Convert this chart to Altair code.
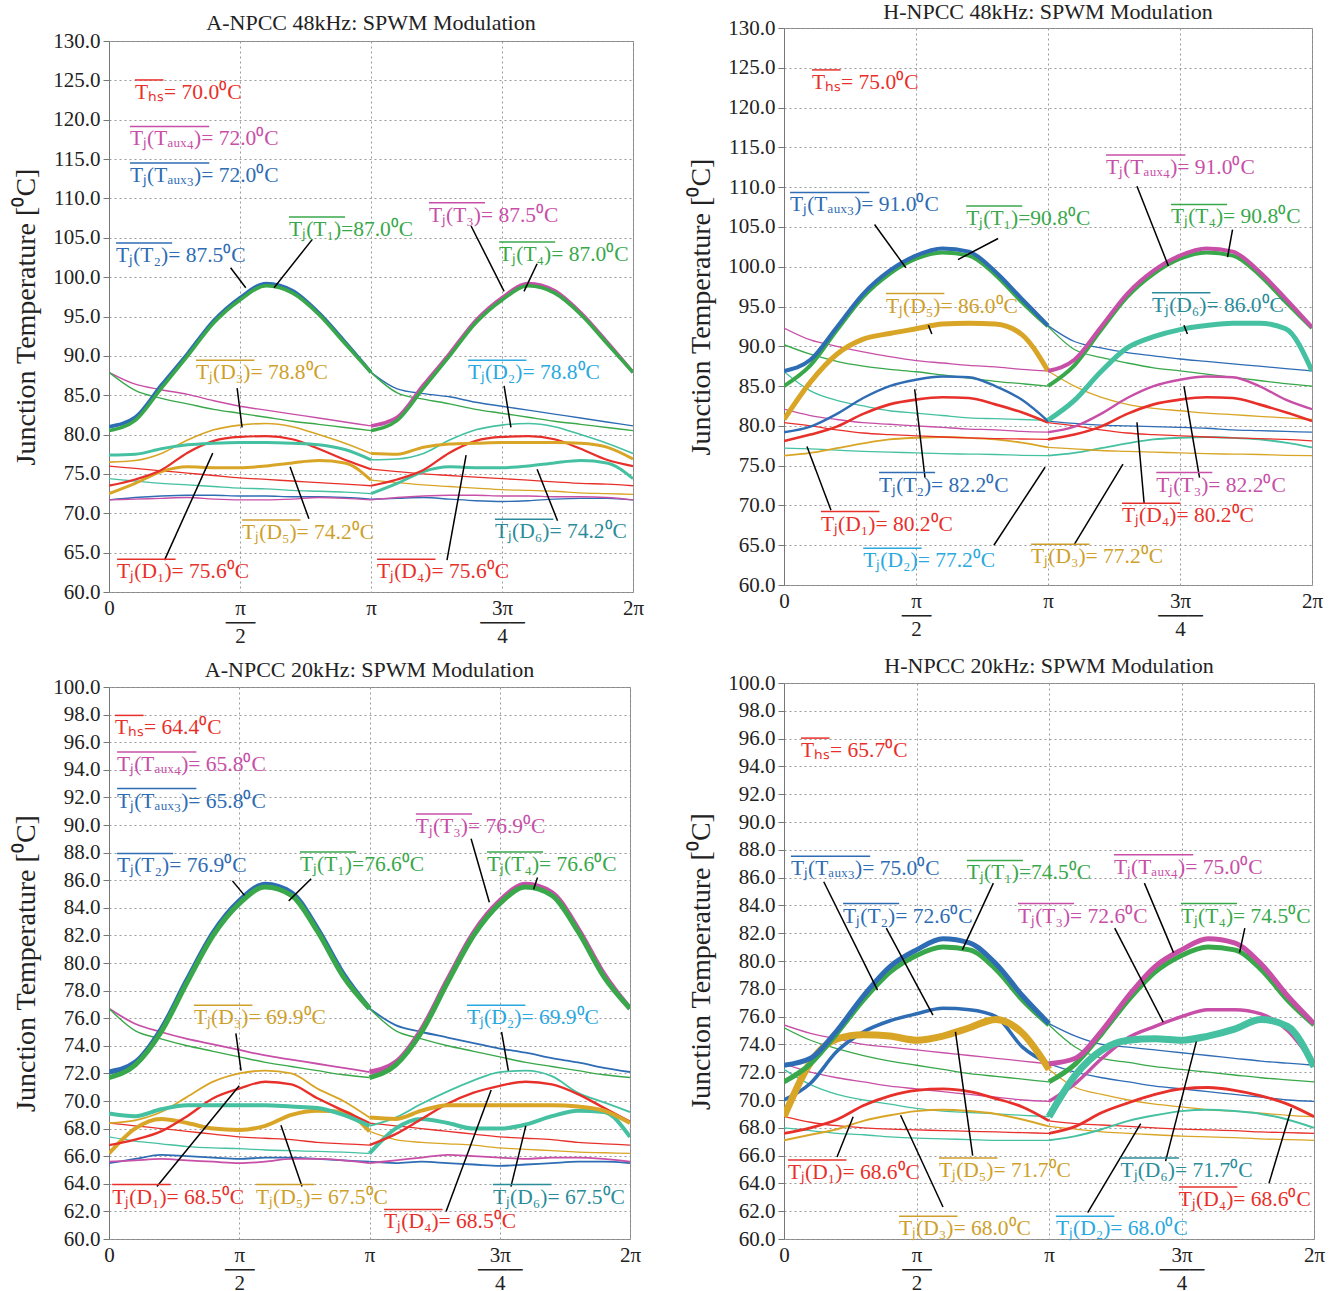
import altair as alt
import pandas as pd

FONT = "Liberation Serif"

# sample grid, in units of pi (0 .. 2pi)
THETA = [0.0, 0.1, 0.2, 0.3, 0.4, 0.5, 0.6, 0.7, 0.8, 0.9, 1.0,
         1.1, 1.2, 1.3, 1.4, 1.5, 1.6, 1.7, 1.8, 1.9, 2.0]

RED = "#e8302b"
MAG = "#c84fa7"
BLUE = "#2e6cb4"
GREEN = "#39a84a"
GOLD = "#d9a526"
TEAL = "#45c1a1"
SKY = "#2aa8e0"
TEAL_L = "#2a8c9a"
GOLD_L = "#cf9f2c"

# ---------------- A-NPCC 48 kHz ----------------
TL_T2 = [81.0, 82.2, 86.3, 90.3, 94.5, 97.4, 99.2, 98.3, 95.5, 91.8, 87.9, 85.8, 85.2, 84.8, 84.1, 83.6, 83.1, 82.6, 82.1, 81.6, 81.1]
TL_T1 = [80.5, 81.8, 85.9, 90.0, 94.2, 97.1, 98.9, 98.0, 95.3, 91.6, 87.9, 85.3, 84.5, 83.9, 83.2, 82.7, 82.2, 81.7, 81.3, 80.9, 80.5]
TL_T3 = [87.9, 86.4, 85.7, 85.1, 84.3, 83.6, 83.1, 82.6, 82.1, 81.6, 81.1, 82.2, 86.3, 90.3, 94.5, 97.4, 99.2, 98.3, 95.5, 91.8, 87.9]
TL_T4 = [87.9, 85.6, 84.6, 83.9, 83.2, 82.7, 82.2, 81.7, 81.3, 80.9, 80.5, 81.8, 85.9, 90.0, 94.2, 97.1, 98.9, 98.0, 95.3, 91.6, 87.9]
TL_D3 = [76.5, 76.7, 77.6, 79.3, 80.6, 81.2, 81.4, 81.0, 80.0, 78.9, 77.6, 77.5, 78.4, 78.8, 78.9, 79.0, 79.0, 79.0, 78.9, 78.4, 76.9]
TL_D2 = [77.4, 77.5, 78.2, 78.7, 78.9, 79.0, 79.0, 78.9, 78.7, 78.1, 76.8, 76.9, 77.6, 79.3, 80.6, 81.2, 81.4, 81.0, 80.0, 78.9, 77.6]
TL_D1 = [73.5, 74.3, 75.5, 77.7, 79.2, 79.7, 79.8, 79.4, 78.2, 76.8, 75.6, 75.3, 75.0, 74.8, 74.6, 74.4, 74.2, 74.0, 73.8, 73.7, 73.5]
TL_D4 = [76.0, 75.7, 75.4, 75.1, 74.8, 74.5, 74.3, 74.1, 73.9, 73.7, 73.5, 74.3, 75.5, 77.7, 79.2, 79.7, 79.8, 79.4, 78.2, 76.8, 76.0]
TL_D5 = [72.5, 73.8, 75.3, 75.9, 75.8, 75.8, 76.0, 76.4, 76.7, 76.4, 74.2, 73.9, 73.6, 73.4, 73.2, 73.0, 72.9, 72.8, 72.6, 72.5, 72.4]
TL_D6 = [74.4, 74.1, 73.8, 73.6, 73.4, 73.2, 73.1, 72.9, 72.8, 72.7, 72.5, 73.8, 75.3, 75.9, 75.8, 75.8, 76.0, 76.4, 76.7, 76.4, 74.4]
TL_AUX3 = [71.7, 72.0, 72.2, 72.3, 72.3, 72.2, 72.2, 72.1, 72.1, 72.0, 71.8, 71.9, 72.0, 71.8, 71.6, 71.5, 71.6, 71.8, 71.9, 71.9, 71.7]
TL_AUX4 = [71.7, 71.8, 71.9, 72.0, 71.8, 71.7, 71.7, 71.8, 72.0, 71.9, 71.7, 72.0, 72.2, 72.3, 72.3, 72.2, 72.2, 72.1, 72.1, 72.0, 71.7]

# ---------------- H-NPCC 48 kHz ----------------
TR_AUX3 = [86.9, 88.3, 92.4, 96.6, 99.5, 101.4, 102.3, 101.9, 99.4, 96.0, 92.6, 90.6, 89.8, 89.2, 88.8, 88.4, 88.1, 87.8, 87.5, 87.2, 86.9]
TR_T1 = [85.0, 87.6, 92.0, 96.2, 99.1, 101.0, 101.8, 101.4, 99.0, 95.6, 92.5, 89.6, 88.6, 87.9, 87.3, 86.9, 86.5, 86.1, 85.7, 85.3, 85.0]
TR_AUX4 = [92.3, 90.8, 90.0, 89.3, 88.7, 88.2, 87.9, 87.6, 87.4, 87.1, 86.9, 88.3, 92.4, 96.6, 99.5, 101.4, 102.3, 101.9, 99.4, 96.0, 92.4]
TR_T4 = [90.2, 89.0, 88.1, 87.5, 87.1, 86.8, 86.4, 86.0, 85.6, 85.3, 85.0, 87.6, 92.0, 96.2, 99.1, 101.0, 101.8, 101.4, 99.0, 95.6, 92.3]
TR_D5 = [80.8, 85.5, 89.0, 90.9, 91.6, 92.2, 92.8, 92.9, 92.8, 91.5, 86.9, 85.0, 83.6, 82.7, 82.2, 81.9, 81.6, 81.4, 81.2, 81.0, 80.8]
TR_D6 = [86.8, 84.4, 83.2, 82.5, 81.9, 81.6, 81.3, 81.0, 80.9, 80.8, 80.7, 83.2, 86.8, 89.8, 91.2, 92.1, 92.6, 92.9, 92.9, 92.2, 86.9]
TR_T2 = [79.2, 79.9, 81.5, 83.5, 85.0, 85.8, 86.2, 86.1, 85.0, 83.3, 80.6, 80.3, 80.1, 80.0, 79.9, 79.8, 79.7, 79.5, 79.4, 79.3, 79.2]
TR_T3 = [82.1, 81.3, 80.8, 80.4, 80.2, 80.0, 79.8, 79.6, 79.5, 79.3, 79.2, 79.9, 81.5, 83.5, 85.0, 85.8, 86.2, 86.1, 85.0, 83.3, 82.1]
TR_D1 = [78.1, 78.9, 79.9, 81.5, 82.7, 83.3, 83.6, 83.5, 82.7, 81.7, 80.4, 80.0, 79.5, 79.1, 78.9, 78.75, 78.6, 78.5, 78.4, 78.3, 78.1]
TR_D4 = [80.4, 80.0, 79.5, 79.1, 78.9, 78.75, 78.6, 78.5, 78.4, 78.35, 78.3, 78.9, 79.9, 81.5, 82.7, 83.3, 83.6, 83.5, 82.7, 81.7, 80.6]
TR_D3 = [76.25, 76.6, 77.2, 77.8, 78.3, 78.5, 78.6, 78.5, 78.3, 77.9, 77.3, 77.1, 76.9, 76.8, 76.7, 76.6, 76.5, 76.45, 76.4, 76.3, 76.25]
TR_D2 = [77.2, 77.1, 76.95, 76.8, 76.7, 76.6, 76.5, 76.45, 76.4, 76.3, 76.25, 76.6, 77.2, 77.8, 78.3, 78.5, 78.6, 78.5, 78.3, 77.9, 77.3]

# ---------------- A-NPCC 20 kHz ----------------
BL_T2 = [72.1, 72.8, 75.2, 78.8, 82.2, 84.5, 85.7, 85.1, 82.5, 79.2, 76.7, 75.5, 75.0, 74.6, 74.2, 73.8, 73.5, 73.1, 72.8, 72.4, 72.1]
BL_T1 = [71.7, 72.6, 75.0, 78.6, 82.0, 84.3, 85.5, 84.9, 82.3, 79.0, 76.7, 75.1, 74.5, 74.0, 73.6, 73.2, 72.8, 72.5, 72.2, 71.9, 71.7]
BL_T3 = [76.7, 75.6, 75.0, 74.5, 74.1, 73.7, 73.3, 73.0, 72.7, 72.4, 72.1, 72.8, 75.2, 78.8, 82.2, 84.5, 85.7, 85.1, 82.5, 79.2, 76.7]
BL_T4 = [76.7, 75.1, 74.5, 74.0, 73.6, 73.2, 72.8, 72.5, 72.2, 71.9, 71.7, 72.6, 75.0, 78.6, 82.0, 84.3, 85.5, 84.9, 82.3, 79.0, 76.7]
BL_D3 = [68.4, 68.6, 69.2, 70.3, 71.4, 72.0, 72.2, 72.0, 70.9, 70.0, 68.8, 68.7, 69.3, 69.7, 69.7, 69.7, 69.7, 69.7, 69.6, 69.3, 68.4]
BL_D2 = [69.1, 68.9, 69.4, 69.7, 69.7, 69.7, 69.7, 69.6, 69.5, 69.0, 68.2, 68.8, 69.8, 70.7, 71.5, 72.1, 72.2, 71.8, 70.6, 69.9, 69.2]
BL_D1 = [66.8, 67.2, 67.8, 68.9, 70.2, 70.9, 71.4, 71.2, 70.2, 69.3, 68.4, 68.2, 68.0, 67.8, 67.6, 67.4, 67.3, 67.2, 67.0, 66.9, 66.8]
BL_D4 = [68.4, 68.2, 68.0, 67.8, 67.6, 67.4, 67.3, 67.2, 67.0, 66.9, 66.8, 67.6, 68.7, 69.8, 70.6, 71.1, 71.4, 71.2, 70.5, 69.5, 68.5]
BL_D5 = [66.2, 68.0, 68.7, 68.4, 68.0, 67.9, 68.2, 69.0, 69.3, 69.2, 67.8, 67.2, 67.0, 66.9, 66.8, 66.6, 66.5, 66.4, 66.3, 66.25, 66.2]
BL_D6 = [67.4, 67.1, 66.9, 66.7, 66.6, 66.55, 66.45, 66.4, 66.35, 66.3, 66.2, 68.0, 68.7, 68.4, 68.0, 68.0, 68.3, 68.9, 69.3, 69.2, 67.4]
BL_AUX3 = [65.5, 65.8, 66.1, 66.0, 65.9, 65.8, 65.9, 65.9, 65.8, 65.7, 65.6, 65.5, 65.6, 65.5, 65.4, 65.3, 65.4, 65.5, 65.6, 65.6, 65.5]
BL_AUX4 = [65.6, 65.7, 65.8, 65.7, 65.6, 65.5, 65.6, 65.8, 65.8, 65.7, 65.5, 65.7, 65.9, 66.1, 66.0, 65.9, 65.8, 65.9, 65.9, 65.8, 65.6]

# ---------------- H-NPCC 20 kHz ----------------
BR_AUX3 = [72.5, 73.0, 75.0, 77.5, 79.6, 80.8, 81.6, 81.3, 79.8, 77.5, 75.5, 74.6, 74.0, 73.8, 73.6, 73.4, 73.2, 73.0, 72.8, 72.65, 72.5]
BR_T1 = [71.3, 72.6, 74.8, 77.2, 79.2, 80.4, 81.0, 80.8, 79.4, 77.2, 75.4, 73.8, 73.0, 72.7, 72.4, 72.2, 72.0, 71.8, 71.6, 71.45, 71.3]
BR_AUX4 = [75.4, 74.8, 74.4, 74.0, 73.8, 73.6, 73.4, 73.2, 73.0, 72.8, 72.6, 73.0, 75.0, 77.5, 79.6, 80.8, 81.6, 81.3, 79.8, 77.5, 75.5]
BR_T4 = [75.2, 74.3, 73.7, 73.2, 72.8, 72.5, 72.2, 71.9, 71.7, 71.5, 71.3, 72.6, 74.8, 77.2, 79.2, 80.4, 81.0, 80.8, 79.4, 77.2, 75.4]
BR_T2 = [70.0, 71.2, 73.5, 74.9, 75.7, 76.2, 76.6, 76.5, 76.0, 73.8, 72.6, 72.0, 71.6, 71.3, 71.0, 70.8, 70.6, 70.4, 70.2, 70.0, 69.9]
BR_T3 = [72.6, 72.0, 71.6, 71.3, 71.0, 70.8, 70.6, 70.4, 70.2, 70.0, 69.9, 71.2, 73.0, 74.5, 75.3, 76.0, 76.5, 76.5, 76.2, 75.0, 72.6]
BR_D5 = [68.8, 72.7, 74.4, 74.7, 74.6, 74.3, 74.6, 75.2, 75.8, 74.8, 72.2, 70.9, 70.4, 70.0, 69.7, 69.5, 69.3, 69.2, 69.05, 68.9, 68.8]
BR_D6 = [72.2, 71.1, 70.4, 70.0, 69.7, 69.4, 69.2, 69.1, 69.0, 68.9, 68.8, 71.8, 73.6, 74.3, 74.4, 74.3, 74.6, 75.1, 75.8, 75.3, 72.4]
BR_D1 = [67.6, 68.0, 68.6, 69.6, 70.3, 70.7, 70.8, 70.6, 70.1, 69.5, 68.5, 68.3, 68.2, 68.1, 68.0, 67.9, 67.85, 67.8, 67.7, 67.65, 67.6]
BR_D4 = [68.8, 68.4, 68.15, 68.0, 67.9, 67.85, 67.8, 67.75, 67.7, 67.65, 67.6, 68.1, 69.1, 69.8, 70.4, 70.8, 70.9, 70.7, 70.3, 69.7, 68.8]
BR_D3 = [67.1, 67.5, 67.9, 68.5, 68.9, 69.2, 69.3, 69.2, 69.0, 68.6, 68.1, 67.9, 67.7, 67.6, 67.5, 67.4, 67.35, 67.3, 67.2, 67.15, 67.1]
BR_D2 = [68.0, 67.8, 67.6, 67.5, 67.35, 67.25, 67.2, 67.15, 67.1, 67.1, 67.1, 67.4, 67.9, 68.5, 68.9, 69.2, 69.3, 69.2, 69.0, 68.6, 68.0]

# tick values
TOP_YTICKS = [60, 65, 70, 75, 80, 85, 90, 95, 100, 105, 110, 115, 120, 125, 130]
BOT_YTICKS = [60, 62, 64, 66, 68, 70, 72, 74, 76, 78, 80, 82, 84, 86, 88, 90, 92, 94, 96, 98, 100]
XTICKS = [0, 0.5, 1, 1.5, 2]

# curves: (values, colour, stroke width on [0,pi], stroke width on [pi,2pi])
TL_CURVES = [
    (TL_AUX3, BLUE, 1.4, 1.4), (TL_AUX4, MAG, 1.4, 1.4),
    (TL_D6, TEAL, 1.3, 3.0), (TL_D5, GOLD, 3.0, 1.3),
    (TL_D4, RED, 1.3, 2.2), (TL_D1, RED, 2.2, 1.3),
    (TL_D2, TEAL, 3.0, 1.6), (TL_D3, GOLD, 1.6, 3.0),
    (TL_T3, MAG, 1.4, 3.5), (TL_T4, GREEN, 1.4, 3.5),
    (TL_T2, BLUE, 3.5, 1.4), (TL_T1, GREEN, 3.5, 1.4),
]
TR_CURVES = [
    (TR_D2, TEAL, 1.3, 1.8), (TR_D3, GOLD, 1.8, 1.3),
    (TR_D4, RED, 1.3, 2.6), (TR_D1, RED, 2.6, 1.3),
    (TR_T3, MAG, 1.3, 2.4), (TR_T2, BLUE, 2.4, 1.3),
    (TR_D6, TEAL, 1.3, 5.0), (TR_D5, GOLD, 5.0, 1.3),
    (TR_T4, GREEN, 1.3, 4.0), (TR_AUX4, MAG, 1.3, 4.0),
    (TR_T1, GREEN, 4.0, 1.3), (TR_AUX3, BLUE, 4.0, 1.3),
]
BL_CURVES = [
    (BL_AUX3, BLUE, 1.8, 1.8), (BL_AUX4, MAG, 1.8, 1.8),
    (BL_D6, TEAL, 1.3, 4.0), (BL_D5, GOLD, 4.0, 1.3),
    (BL_D4, RED, 1.3, 2.4), (BL_D1, RED, 2.4, 1.3),
    (BL_D2, TEAL, 4.0, 1.8), (BL_D3, GOLD, 1.8, 4.0),
    (BL_T3, MAG, 1.8, 5.0), (BL_T4, GREEN, 1.4, 5.0),
    (BL_T2, BLUE, 5.0, 1.8), (BL_T1, GREEN, 5.0, 1.4),
]
BR_CURVES = [
    (BR_D2, TEAL, 1.3, 2.0), (BR_D3, GOLD, 2.0, 1.3),
    (BR_D4, RED, 1.3, 2.8), (BR_D1, RED, 2.8, 1.3),
    (BR_T3, MAG, 1.3, 3.5), (BR_T2, BLUE, 3.5, 1.3),
    (BR_D6, TEAL, 1.3, 7.0), (BR_D5, GOLD, 7.0, 1.3),
    (BR_T4, GREEN, 1.3, 5.0), (BR_AUX4, MAG, 1.3, 5.0),
    (BR_T1, GREEN, 5.0, 1.3), (BR_AUX3, BLUE, 5.0, 1.3),
]

# annotations: (text, colour, theta/pi, value)
TL_LABELS = [
    ("Tₕₛ= 70.0⁰C", RED, 0.099, 123.4),
    ("Tⱼ(Tₐᵤₓ₄)= 72.0⁰C", MAG, 0.08, 117.5),
    ("Tⱼ(Tₐᵤₓ₃)= 72.0⁰C", BLUE, 0.08, 112.85),
    ("Tⱼ(T₂)= 87.5⁰C", BLUE, 0.027, 102.7),
    ("Tⱼ(T₁)=87.0⁰C", GREEN, 0.687, 106.0),
    ("Tⱼ(T₃)= 87.5⁰C", MAG, 1.221, 107.8),
    ("Tⱼ(T₄)= 87.0⁰C", GREEN, 1.489, 102.8),
    ("Tⱼ(D₃)= 78.8⁰C", GOLD_L, 0.332, 87.8),
    ("Tⱼ(D₂)= 78.8⁰C", SKY, 1.37, 87.8),
    ("Tⱼ(D₅)= 74.2⁰C", GOLD_L, 0.508, 67.5),
    ("Tⱼ(D₆)= 74.2⁰C", TEAL_L, 1.473, 67.6),
    ("Tⱼ(D₁)= 75.6⁰C", RED, 0.031, 62.5),
    ("Tⱼ(D₄)= 75.6⁰C", RED, 1.023, 62.5),
]
TR_LABELS = [
    ("Tₕₛ= 75.0⁰C", RED, 0.106, 123.1),
    ("Tⱼ(Tₐᵤₓ₄)= 91.0⁰C", MAG, 1.22, 112.4),
    ("Tⱼ(Tₐᵤₓ₃)= 91.0⁰C", BLUE, 0.023, 107.7),
    ("Tⱼ(T₁)=90.8⁰C", GREEN, 0.69, 106.0),
    ("Tⱼ(T₄)= 90.8⁰C", GREEN, 1.466, 106.2),
    ("Tⱼ(D₅)= 86.0⁰C", GOLD_L, 0.386, 95.0),
    ("Tⱼ(D₆)= 86.0⁰C", TEAL_L, 1.394, 95.1),
    ("Tⱼ(T₂)= 82.2⁰C", BLUE, 0.36, 72.5),
    ("Tⱼ(T₃)= 82.2⁰C", MAG, 1.41, 72.5),
    ("Tⱼ(D₁)= 80.2⁰C", RED, 0.14, 67.6),
    ("Tⱼ(D₄)= 80.2⁰C", RED, 1.28, 68.65),
    ("Tⱼ(D₂)= 77.2⁰C", SKY, 0.30, 63.0),
    ("Tⱼ(D₃)= 77.2⁰C", GOLD_L, 0.936, 63.5),
]
BL_LABELS = [
    ("Tₕₛ= 64.4⁰C", RED, 0.023, 97.0),
    ("Tⱼ(Tₐᵤₓ₄)= 65.8⁰C", MAG, 0.031, 94.35),
    ("Tⱼ(Tₐᵤₓ₃)= 65.8⁰C", BLUE, 0.031, 91.7),
    ("Tⱼ(T₃)= 76.9⁰C", MAG, 1.178, 89.85),
    ("Tⱼ(T₂)= 76.9⁰C", BLUE, 0.031, 87.0),
    ("Tⱼ(T₁)=76.6⁰C", GREEN, 0.733, 87.1),
    ("Tⱼ(T₄)= 76.6⁰C", GREEN, 1.451, 87.1),
    ("Tⱼ(D₃)= 69.9⁰C", GOLD_L, 0.326, 76.0),
    ("Tⱼ(D₂)= 69.9⁰C", SKY, 1.374, 76.0),
    ("Tⱼ(D₁)= 68.5⁰C", RED, 0.012, 63.0),
    ("Tⱼ(D₅)= 67.5⁰C", GOLD_L, 0.564, 63.0),
    ("Tⱼ(D₆)= 67.5⁰C", TEAL_L, 1.474, 63.0),
    ("Tⱼ(D₄)= 68.5⁰C", RED, 1.056, 61.2),
]
BR_LABELS = [
    ("Tₕₛ= 65.7⁰C", RED, 0.064, 95.1),
    ("Tⱼ(Tₐᵤₓ₃)= 75.0⁰C", BLUE, 0.026, 86.6),
    ("Tⱼ(T₁)=74.5⁰C", GREEN, 0.69, 86.3),
    ("Tⱼ(Tₐᵤₓ₄)= 75.0⁰C", MAG, 1.245, 86.7),
    ("Tⱼ(T₂)= 72.6⁰C", BLUE, 0.223, 83.2),
    ("Tⱼ(T₃)= 72.6⁰C", MAG, 0.883, 83.2),
    ("Tⱼ(T₄)= 74.5⁰C", GREEN, 1.498, 83.2),
    ("Tⱼ(D₁)= 68.6⁰C", RED, 0.015, 64.75),
    ("Tⱼ(D₅)= 71.7⁰C", GOLD_L, 0.585, 64.9),
    ("Tⱼ(D₆)= 71.7⁰C", TEAL_L, 1.27, 64.9),
    ("Tⱼ(D₄)= 68.6⁰C", RED, 1.49, 62.8),
    ("Tⱼ(D₃)= 68.0⁰C", GOLD_L, 0.434, 60.7),
    ("Tⱼ(D₂)= 68.0⁰C", SKY, 1.026, 60.7),
]

# leader lines: (theta1, value1, theta2, value2)
TL_LEADERS = [
    (0.464, 101.2, 0.522, 98.65), (0.776, 104.8, 0.63, 98.65),
    (1.382, 106.5, 1.508, 98.2), (1.634, 101.7, 1.584, 98.2),
    (0.489, 85.9, 0.508, 80.9), (1.508, 86.2, 1.534, 80.9),
    (0.691, 75.9, 0.763, 69.3), (1.634, 75.6, 1.712, 69.05),
    (0.396, 77.65, 0.212, 64.05), (1.363, 77.4, 1.29, 64.05),
]
TR_LEADERS = [
    (0.343, 105.3, 0.462, 99.85), (0.811, 103.55, 0.659, 100.9),
    (1.337, 110.1, 1.456, 100.1), (1.699, 104.65, 1.68, 101.2),
    (0.547, 92.65, 0.56, 91.55), (1.515, 92.65, 1.528, 91.55),
    (0.495, 84.6, 0.534, 73.5), (1.515, 85.0, 1.574, 73.5),
    (0.087, 77.4, 0.178, 69.4), (1.337, 80.45, 1.364, 70.3),
    (0.989, 74.8, 0.795, 65.0), (1.284, 75.2, 1.098, 65.0),
]
BL_LEADERS = [
    (0.474, 85.95, 0.52, 84.9), (0.776, 86.1, 0.69, 84.5),
    (1.39, 89.0, 1.46, 84.4), (1.645, 86.2, 1.63, 85.35),
    (0.487, 74.9, 0.507, 72.2), (1.507, 75.0, 1.533, 72.2),
    (0.5, 71.1, 0.184, 63.8), (0.66, 68.25, 0.741, 63.8),
    (1.467, 70.8, 1.294, 62.0), (1.6, 68.2, 1.543, 63.8),
]
BR_LEADERS = [
    (0.15, 85.7, 0.353, 77.9), (0.79, 85.6, 0.673, 80.8),
    (0.386, 82.36, 0.562, 76.1), (1.248, 82.36, 1.431, 75.6),
    (1.36, 85.6, 1.47, 80.6), (1.739, 82.36, 1.719, 80.6),
    (0.261, 68.8, 0.20, 65.9), (0.44, 68.9, 0.60, 62.3),
    (0.647, 74.9, 0.712, 66.0), (1.346, 68.3, 1.146, 61.9),
    (1.556, 74.2, 1.44, 65.6), (1.915, 69.4, 1.83, 64.0),
]

LABEL_SIZE = 21.5

# approximate glyph widths (em) for the overline lengths
GW = {"T": 0.611, "(": 0.333, ")": 0.333, "D": 0.722}
SUB_W = 0.36


def name_width_px(txt, size):
    head = txt.split("=")[0]
    return sum(GW.get(ch, SUB_W) for ch in head) * size


XLABELS = ("datum.value == 0 ? '0' : datum.value == 0.5 ? ['π', '──', '2'] : "
           "datum.value == 1 ? 'π' : datum.value == 1.5 ? ['3π', '───', '4'] : '2π'")


def title_params(text, offset):
    return alt.TitleParams(text, font=FONT, fontSize=22, fontWeight="normal",
                           color="#222", offset=offset)


def panel(title, curves, labels, leaders, ydom, yticks, w, h, toff, tpad):
    xs = alt.Scale(domain=[0, 2], nice=False, zero=False)
    ys = alt.Scale(domain=ydom, nice=False, zero=False)
    xax = alt.Axis(values=XTICKS, labelExpr=XLABELS, title=None, grid=True,
                   gridDash=[2, 3], gridColor="#9a9a9a", ticks=False, domain=False,
                   labelFont=FONT, labelFontSize=21, labelColor="#222",
                   labelLineHeight=14, labelBaseline="top", labelPadding=5,
                   labelFlush=False, labelOverlap=False)
    yax = alt.Axis(values=yticks, format=".1f", title="Junction Temperature [⁰C]",
                   grid=True, gridDash=[2, 3], gridColor="#9a9a9a", tickSize=6,
                   tickColor="#777", domainColor="#777", labelFont=FONT,
                   labelFontSize=21, labelColor="#222", labelPadding=3,
                   titleFont=FONT, titleFontSize=28, titleFontWeight="normal",
                   titleColor="#222", titlePadding=tpad, labelOverlap=False)

    rows = []
    k = 0
    for vals, col, w1, w2 in curves:
        for lo, hi, sw in ((0, 11, w1), (10, 21, w2)):
            for i in range(lo, hi):
                rows.append({"t": THETA[i], "v": vals[i], "s": f"c{k:02d}",
                             "c": col, "w": sw})
            k += 1
    cdf = pd.DataFrame(rows)

    def X(f):
        return alt.X(f, type="quantitative", scale=xs, axis=xax)

    def Y(f):
        return alt.Y(f, type="quantitative", scale=ys, axis=yax)

    thin = alt.Chart(cdf[cdf.w < 2.0]).mark_line(interpolate="monotone", clip=True).encode(
        x=X("t"), y=Y("v"), detail="s:N", color=alt.Color("c:N", scale=None),
        strokeWidth=alt.StrokeWidth("w:Q", scale=None), order="t:Q")
    thick = alt.Chart(cdf[cdf.w >= 2.0]).mark_line(interpolate="monotone", clip=True).encode(
        x=X("t"), y=Y("v"), detail="s:N", color=alt.Color("c:N", scale=None),
        strokeWidth=alt.StrokeWidth("w:Q", scale=None), order="t:Q")

    ldf = pd.DataFrame([{"txt": t, "c": c, "t": x, "v": v,
                         "t2": x + name_width_px(t, LABEL_SIZE) / (w / 2.0)}
                        for t, c, x, v in labels])
    text = alt.Chart(ldf).mark_text(align="left", baseline="middle", font=FONT,
                                    fontSize=LABEL_SIZE).encode(
        x=X("t"), y=Y("v"), text="txt:N", color=alt.Color("c:N", scale=None))
    over = alt.Chart(ldf).mark_rule(yOffset=-13, strokeWidth=1.5).encode(
        x=X("t"), x2="t2:Q", y=Y("v"), color=alt.Color("c:N", scale=None))

    qdf = pd.DataFrame([{"t1": a, "v1": b, "t2": c, "v2": d} for a, b, c, d in leaders])
    lead = alt.Chart(qdf).mark_rule(color="black", strokeWidth=1.5).encode(
        x=X("t1"), y=Y("v1"), x2="t2:Q", y2="v2:Q")

    props = dict(width=w, height=h, view=alt.ViewBackground(stroke="#888", strokeWidth=1))
    if title is not None:
        props["title"] = title_params(title, toff)
    return alt.layer(thin, thick, lead, over, text).properties(**props)


# an empty strip that carries the first panel's title, so that the first
# panel can sit a little lower than the second one (as in the reference)
title_strip = alt.Chart(pd.DataFrame({"a": [0]})).mark_point(opacity=0).encode(
    x=alt.X("a:Q", axis=None), y=alt.Y("a:Q", axis=None)
).properties(width=524, height=1, title=title_params("A-NPCC 48kHz: SPWM Modulation", -9),
             view=alt.ViewBackground(stroke="transparent", fill="transparent"))

tl = panel(None, TL_CURVES, TL_LABELS, TL_LEADERS,
           [60, 130], TOP_YTICKS, 524, 551, 0, 12)
tr = panel("H-NPCC 48kHz: SPWM Modulation", TR_CURVES, TR_LABELS, TR_LEADERS,
           [60, 130], TOP_YTICKS, 528, 557, -7, 12)
bl = panel("A-NPCC 20kHz: SPWM Modulation", BL_CURVES, BL_LABELS, BL_LEADERS,
           [60, 100], BOT_YTICKS, 521, 552, -5.5, 12)
br = panel("H-NPCC 20kHz: SPWM Modulation", BR_CURVES, BR_LABELS, BR_LEADERS,
           [60, 100], BOT_YTICKS, 530, 556, -5.5, 12)

left = alt.vconcat(alt.vconcat(title_strip, tl, spacing=-6), bl, spacing=11)
right = alt.vconcat(tr, br, spacing=14)

chart = alt.hconcat(left, right, spacing=42).properties(
    padding={"left": 12, "top": 0, "right": 0, "bottom": 0}
).configure_view(stroke=None).configure(background="white")

chart.save("out.html", embed_options={"renderer": "svg", "actions": False})
